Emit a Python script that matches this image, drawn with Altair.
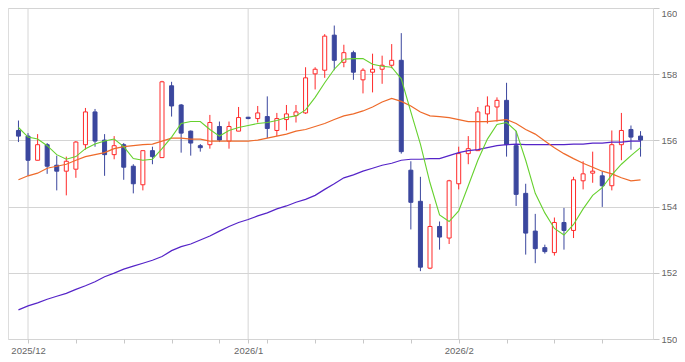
import altair as alt
import pandas as pd

# ---- data ----
dates = pd.bdate_range("2025-11-28", "2026-02-27")

open_ = [156.30, 156.13, 155.40, 155.87, 155.25, 155.07, 155.13, 155.87, 156.86, 156.01,
         155.57, 155.87, 155.22, 154.66, 155.69, 155.48, 157.65, 157.07, 156.28, 155.84,
         155.87, 156.42, 155.98, 156.28, 156.70, 156.66, 156.72, 156.30, 156.63, 156.75,
         156.83, 158.01, 158.12, 159.18, 158.36, 158.65, 157.83, 158.06, 158.15, 158.27,
         158.42, 155.10, 154.16, 152.14, 153.40, 153.05, 154.69, 155.60, 155.69, 156.80,
         157.01, 157.21, 155.84, 154.40, 153.26, 152.76, 152.61, 153.52, 153.28, 154.78,
         155.01, 154.93, 154.63, 155.87, 156.33, 156.13]
high = [156.60, 156.22, 156.19, 155.92, 155.54, 155.51, 155.98, 156.98, 156.95, 156.19,
        156.13, 155.92, 155.28, 155.69, 155.81, 157.80, 157.77, 157.10, 156.30, 155.89,
        156.77, 156.57, 156.57, 157.01, 156.71, 157.04, 157.33, 156.83, 157.07, 157.07,
        158.21, 158.21, 159.21, 159.47, 158.89, 158.71, 158.18, 158.62, 158.56, 158.91,
        159.24, 155.37, 154.90, 154.08, 153.55, 154.81, 155.81, 156.13, 157.01, 157.33,
        157.30, 157.74, 156.28, 154.69, 153.78, 152.85, 153.67, 153.96, 154.90, 155.37,
        155.66, 155.07, 156.30, 156.83, 156.45, 156.28]
low = [155.95, 154.93, 155.40, 154.99, 154.49, 154.34, 154.87, 155.72, 155.81, 154.93,
       155.43, 154.81, 154.40, 154.49, 155.28, 155.48, 156.72, 155.63, 155.54, 155.66,
       155.75, 155.95, 155.75, 156.28, 156.64, 156.54, 156.07, 156.13, 156.30, 156.54,
       156.80, 157.54, 157.89, 158.12, 158.21, 157.83, 157.42, 157.45, 157.71, 158.18,
       155.60, 153.31, 152.05, 152.11, 152.70, 152.87, 154.52, 155.28, 155.69, 156.51,
       156.57, 155.51, 154.02, 152.55, 152.29, 152.58, 152.52, 152.70, 153.05, 154.52,
       154.72, 153.99, 154.49, 155.40, 155.72, 155.51]
close = [156.13, 155.40, 155.87, 155.22, 155.07, 155.37, 155.95, 156.86, 155.98, 155.57,
         155.84, 155.19, 154.69, 155.69, 155.51, 157.77, 157.04, 156.22, 155.92, 155.78,
         156.54, 156.01, 156.42, 156.69, 156.66, 156.83, 156.36, 156.66, 156.80, 156.86,
         157.89, 158.15, 159.15, 158.42, 158.65, 158.06, 158.12, 158.15, 158.27, 158.42,
         155.66, 154.13, 152.17, 153.40, 153.08, 154.78, 155.60, 155.75, 156.86, 157.04,
         157.21, 155.87, 154.37, 153.20, 152.73, 152.64, 153.52, 153.28, 154.81, 154.99,
         155.07, 154.63, 155.87, 156.30, 156.10, 156.01]

ma_short = [156.39, 156.10, 156.04, 155.84, 155.57, 155.43, 155.51, 155.75, 155.89, 155.98,
            156.04, 155.81, 155.45, 155.40, 155.43, 155.75, 156.10, 156.51, 156.57, 156.57,
            156.33, 156.13, 156.30, 156.39, 156.45, 156.51, 156.54, 156.60, 156.69, 156.74,
            156.92, 157.30, 157.74, 158.15, 158.45, 158.47, 158.47, 158.30, 158.24, 158.21,
            157.86, 156.86, 155.89, 154.72, 153.75, 153.55, 153.87, 154.63, 155.40, 156.04,
            156.48, 156.54, 156.28, 155.40, 154.40, 153.81, 153.34, 153.14, 153.46, 153.93,
            154.34, 154.57, 154.96, 155.28, 155.54, 155.78]
ma_mid = [154.81, 154.93, 155.01, 155.16, 155.22, 155.28, 155.40, 155.51, 155.57, 155.63,
          155.75, 155.81, 155.84, 155.87, 155.89, 155.98, 156.07, 156.07, 156.04, 156.04,
          155.98, 155.98, 155.98, 155.98, 155.98, 156.01, 156.07, 156.13, 156.19, 156.28,
          156.33, 156.42, 156.51, 156.63, 156.74, 156.80, 156.89, 157.01, 157.16, 157.27,
          157.18, 157.04, 156.86, 156.74, 156.72, 156.69, 156.63, 156.57, 156.57, 156.57,
          156.60, 156.63, 156.51, 156.33, 156.19, 155.98, 155.78, 155.60, 155.45, 155.31,
          155.19, 155.07, 154.99, 154.87, 154.78, 154.81]
ma_long = [150.88, 151.00, 151.09, 151.20, 151.29, 151.38, 151.50, 151.61, 151.73, 151.88,
           151.99, 152.11, 152.20, 152.29, 152.38, 152.49, 152.67, 152.79, 152.87, 152.99,
           153.11, 153.26, 153.40, 153.52, 153.61, 153.72, 153.81, 153.93, 154.02, 154.13,
           154.22, 154.34, 154.52, 154.69, 154.87, 154.96, 155.07, 155.16, 155.25, 155.31,
           155.40, 155.43, 155.43, 155.45, 155.45, 155.54, 155.63, 155.69, 155.72, 155.78,
           155.84, 155.87, 155.89, 155.87, 155.87, 155.87, 155.87, 155.87, 155.89, 155.89,
           155.92, 155.92, 155.95, 155.95, 155.98, 155.98]

y_ticks = [150, 152, 154, 156, 158, 160]

# ---- tables ----
n = len(dates)
df = pd.DataFrame({
    "i": list(range(n)),
    "date": dates.strftime("%Y-%m-%d"),
    "open": open_, "high": high, "low": low, "close": close,
    "ma5": ma_short, "ma25": ma_mid, "ma75": ma_long,
})
df["up"] = df["close"] >= df["open"]

month_idx = [k for k in range(1, n) if dates[k].month != dates[k - 1].month]
month_lbl = [f"{dates[k].year}/{dates[k].month}" for k in month_idx]
monday_idx = [k for k in range(n) if dates[k].weekday() == 0]
tick_vals = sorted(set(month_idx) | set(monday_idx))
label_expr = " : ".join(f"datum.value == {k} ? '{s}'" for k, s in zip(month_idx, month_lbl)) + " : ''"
months = pd.DataFrame({"i": month_idx, "label": month_lbl})

RED = "#ff2a2a"
BLUE = "#3b479e"
FONT = "Liberation Sans"
LABEL_COLOR = "#666666"

xscale = alt.Scale(domain=[-0.57, 65.78], nice=False, zero=False)
yscale = alt.Scale(domain=[150, 160], nice=False, zero=False)

x_axis = alt.Axis(values=tick_vals, labelExpr=label_expr, grid=False, domain=False,
                  tickSize=4, tickColor="#c8c8c8", labelPadding=2, labelAngle=0,
                  labelFlush=False, labelOverlap=False, labelFont=FONT, labelFontSize=9.5,
                  labelColor=LABEL_COLOR, title=None)
y_axis = alt.Axis(orient="right", values=y_ticks, grid=True, gridColor="#d4d4d4",
                  domain=False, tickSize=6, tickColor="#c8c8c8", labelPadding=2,
                  labelFont=FONT, labelFontSize=9.5, labelColor=LABEL_COLOR, title=None,
                  labelBaseline={"condition": {"test": "datum.value >= 160", "value": "top"},
                                 "value": "middle"})

base = alt.Chart(df)

month_grid = alt.Chart(months).mark_rule(color="#d6d6d6", strokeWidth=1).encode(
    x=alt.X("i:Q", scale=xscale, axis=x_axis)
)

wicks = base.mark_rule(strokeWidth=1).encode(
    x=alt.X("i:Q", scale=xscale, axis=x_axis),
    y=alt.Y("low:Q", scale=yscale, axis=y_axis),
    y2="high:Q",
    color=alt.Color("up:N", scale=alt.Scale(domain=[True, False], range=[RED, BLUE]), legend=None),
)

up_bodies = base.transform_filter("datum.up").mark_bar(
    width=4, fill="white", stroke=RED, strokeWidth=1
).encode(x="i:Q", y="open:Q", y2="close:Q")

down_bodies = base.transform_filter("!datum.up").mark_bar(
    width=4, fill=BLUE, stroke=BLUE, strokeWidth=1
).encode(x="i:Q", y="open:Q", y2="close:Q")

line75 = base.mark_line(color="#5524c8", strokeWidth=1.2).encode(x="i:Q", y="ma75:Q")
line25 = base.mark_line(color="#ee6a2a", strokeWidth=1.2).encode(x="i:Q", y="ma25:Q")
line5 = base.mark_line(color="#66d12e", strokeWidth=1.1).encode(x="i:Q", y="ma5:Q")

chart = alt.layer(
    month_grid, wicks, up_bodies, down_bodies, line75, line25, line5
).properties(
    width=645, height=331,
    autosize=alt.AutoSizeParams(type="none"),
    padding={"left": 0, "top": 0, "right": 24, "bottom": 15},
).configure_view(
    fill="#f0f0f0", stroke="#d0d0d0"
).configure(background="white")

chart.save("out.html", embed_options={"renderer": "svg", "actions": False})
